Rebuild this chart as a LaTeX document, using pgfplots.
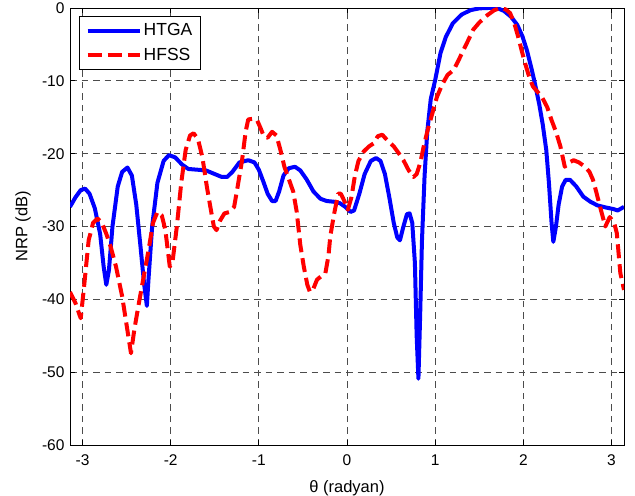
\documentclass[border=0pt]{standalone}
\usepackage{fontspec}
\setmainfont{Liberation Sans}
\usepackage{pgfplots}
\pgfplotsset{compat=1.18}
\begin{document}
\begin{tikzpicture}
\begin{axis}[name=a,
  width=554pt, height=437pt, scale only axis,
  xmin=-3.14159, xmax=3.14159, ymin=-60, ymax=0,
  xtick={-3,-2,-1,0,1,2,3}, xticklabels={-3,-2,-1,0,1,2,3},
  ytick={-60,-50,-40,-30,-20,-10,0}, yticklabels={-60,-50,-40,-30,-20,-10,0},
  tick align=inside, major tick length=5pt,
  tick style={black, line width=0.8pt},
  axis line style={line width=0.8pt},
  grid=major,
  major grid style={line width=0.8pt, black!70, dash pattern=on 6.5pt off 5pt},
  tick label style={font=\fontsize{15.5}{18}\selectfont},
  xticklabel style={anchor=base, yshift=-20pt},
  yticklabel style={xshift=-2pt},
  label style={font=\fontsize{16.5}{20}\selectfont},
  xlabel={θ (radyan)},
  ylabel={NRP (dB)},
  x label style={at={(axis description cs:0.5,-0.1)}, anchor=center},
  y label style={at={(axis description cs:-0.0848,0.5)}, anchor=center},
  legend style={at={(0.0168,0.981)}, anchor=north west, draw=black, line width=0.8pt,
    font=\fontsize{17.5}{20}\selectfont, inner xsep=6pt, inner ysep=5pt,
    row sep=7pt, cells={anchor=west}},
  legend image code/.code={\draw[#1] (0pt,0pt) -- (52pt,0pt);},
]
\addplot[blue, line width=4pt, line join=round] coordinates {
(-3.1416,-27.3) (-3.08,-26.0) (-3.02,-25.0) (-2.97,-24.8) (-2.92,-25.5) (-2.86,-27.5)
(-2.80,-31) (-2.76,-35.5) (-2.73,-38) (-2.70,-36) (-2.66,-30) (-2.60,-24.5)
(-2.55,-22.5) (-2.49,-21.9) (-2.44,-23) (-2.39,-27) (-2.34,-33) (-2.30,-38)
(-2.27,-40.9) (-2.25,-37) (-2.21,-30) (-2.15,-24) (-2.08,-21) (-2.02,-20.2)
(-1.95,-20.5) (-1.87,-21.5) (-1.80,-22.1) (-1.70,-22.2) (-1.60,-22.3) (-1.50,-22.8)
(-1.42,-23.2) (-1.36,-23.2) (-1.30,-22.5) (-1.22,-21.2) (-1.12,-20.9) (-1.05,-21.2)
(-1.00,-22.2) (-0.95,-23.8) (-0.90,-25.5) (-0.85,-26.5) (-0.81,-26.5) (-0.77,-25.2)
(-0.72,-23.0) (-0.66,-22.0) (-0.59,-21.8) (-0.53,-22.3) (-0.46,-23.5) (-0.38,-25.2)
(-0.30,-26.2) (-0.23,-26.5) (-0.15,-26.6) (-0.08,-26.8) (-0.02,-27.3) (0.04,-28.0)
(0.08,-27.8) (0.14,-25.5) (0.20,-22.8) (0.27,-21.0) (0.33,-20.6) (0.38,-21)
(0.43,-22.8) (0.48,-26) (0.53,-29.5) (0.57,-31.5) (0.60,-31.9) (0.64,-30)
(0.68,-28.3) (0.71,-28.2) (0.74,-29.5) (0.77,-35) (0.79,-45) (0.81,-50.9)
(0.83,-42) (0.85,-32) (0.88,-23) (0.91,-17) (0.95,-12.5) (1.00,-9.9)
(1.06,-6.2) (1.12,-4.0) (1.20,-2.1) (1.30,-0.9) (1.40,-0.3) (1.50,-0.05)
(1.60,0) (1.70,0) (1.78,-0.4) (1.86,-1.2) (1.93,-2.3) (1.99,-3.9)
(2.04,-5.8) (2.09,-8.2) (2.13,-10.3) (2.18,-13.2) (2.22,-16) (2.26,-19.5)
(2.29,-24) (2.32,-29.5) (2.34,-32.1) (2.37,-30) (2.40,-27) (2.44,-24.5)
(2.48,-23.6) (2.53,-23.6) (2.60,-24.5) (2.68,-25.9) (2.76,-26.6) (2.84,-27.1)
(2.94,-27.4) (3.02,-27.6) (3.07,-27.8) (3.1416,-27.3)
};
\addlegendentry{HTGA}
\addplot[red, line width=4pt, dash pattern=on 14pt off 6pt, line join=round] coordinates {
(-3.1416,-39) (-3.08,-40.5) (-3.02,-42.6) (-2.98,-38) (-2.93,-31.9) (-2.88,-29.5)
(-2.83,-28.9) (-2.78,-29.5) (-2.73,-31) (-2.68,-32.8) (-2.62,-35.5) (-2.55,-39.6)
(-2.50,-43.5) (-2.45,-47.4) (-2.41,-44) (-2.36,-40.5) (-2.30,-36.5) (-2.25,-33.2)
(-2.20,-29.5) (-2.15,-28) (-2.10,-28.5) (-2.06,-30.5) (-2.01,-35.5) (-1.98,-35)
(-1.93,-30) (-1.88,-24) (-1.83,-19.5) (-1.78,-17.5) (-1.74,-17.2) (-1.69,-18)
(-1.64,-20.5) (-1.59,-24.5) (-1.55,-27.3) (-1.51,-30) (-1.48,-30.5) (-1.44,-29.2)
(-1.39,-28.2) (-1.33,-28) (-1.28,-27.3) (-1.24,-24.5) (-1.19,-20.9) (-1.15,-17)
(-1.12,-15.3) (-1.06,-15.2) (-1.02,-15.4) (-0.98,-16.5) (-0.94,-17.7) (-0.90,-17.8)
(-0.85,-17.0) (-0.80,-17.5) (-0.755,-19.5) (-0.71,-21.8) (-0.66,-23.5) (-0.61,-25.2)
(-0.57,-28) (-0.53,-32.5) (-0.49,-35.5) (-0.45,-38) (-0.42,-39) (-0.38,-38.5)
(-0.34,-37.3) (-0.29,-36.8) (-0.245,-36.4) (-0.21,-34) (-0.19,-31.4) (-0.15,-28.5)
(-0.10,-25.5) (-0.07,-25.5) (-0.03,-26.5) (0.01,-27.7) (0.05,-26) (0.09,-23)
(0.13,-21) (0.19,-19.7) (0.25,-19) (0.30,-18.6) (0.35,-17.6) (0.40,-17.4)
(0.46,-18.2) (0.53,-19) (0.59,-20) (0.64,-20.9) (0.70,-22.3) (0.755,-23.2)
(0.79,-22.8) (0.83,-21.3) (0.87,-19) (0.91,-17) (0.96,-14.8) (1.02,-12.2)
(1.08,-10.5) (1.14,-9.2) (1.21,-8.5) (1.26,-7.3) (1.32,-5.8) (1.38,-4.3)
(1.43,-3.0) (1.50,-2.0) (1.59,-1.0) (1.67,-0.3) (1.74,0) (1.80,-0.2)
(1.85,-0.7) (1.90,-2.2) (1.94,-3.9) (1.98,-5.8) (2.02,-7.6) (2.07,-9.6)
(2.11,-10.8) (2.16,-11.5) (2.21,-12.2) (2.27,-13.6) (2.32,-15.4) (2.37,-17)
(2.42,-19) (2.47,-21.8) (2.52,-21.2) (2.57,-20.9) (2.63,-21.2) (2.70,-21.8)
(2.75,-22.5) (2.79,-23.6) (2.83,-25.4) (2.87,-27.3) (2.93,-30) (2.98,-28.7)
(3.03,-29.5) (3.06,-30.9) (3.10,-36.4) (3.1416,-38.7)
};
\addlegendentry{HFSS}
\end{axis}
\pgfresetboundingbox
\useasboundingbox ([shift={(-70pt,-50pt)}]a.south west) rectangle ([shift={(11pt,8pt)}]a.north east);
\end{tikzpicture}
\end{document}
